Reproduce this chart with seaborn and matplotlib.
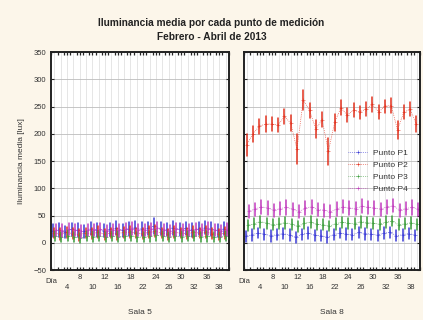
import pandas as pd
import matplotlib
matplotlib.use("Agg")
import matplotlib.pyplot as plt
import seaborn as sns

# Valores (media y semi-rango por dia)
puntos = ["Punto P1", "Punto P2", "Punto P3", "Punto P4"]
colores = ["#3a3ad6", "#e2321e", "#3c9e3c", "#c23cbe"]
etiquetas_dia = ["4", "8", "10", "12", "16", "18", "22", "24", "26", "30", "32", "36", "38"]

sala5_p1 = [22, 24, 20, 25, 23, 21, 26, 24, 22, 25, 27, 23, 26, 28, 25, 27, 31, 26, 24, 28, 25, 27, 24, 26, 28, 25, 23, 26]
sala5_p2 = [18, 16, 19, 17, 15, 18, 17, 19, 16, 18, 17, 19, 20, 18, 17, 19, 21, 18, 16, 19, 18, 17, 19, 18, 20, 17, 16, 18]
sala5_p3 = [12, 10, 13, 11, 9, 12, 11, 13, 10, 12, 11, 12, 13, 11, 10, 12, 14, 12, 10, 13, 11, 12, 13, 11, 12, 10, 11, 12]
sala5_p4 = [24, 22, 25, 23, 21, 24, 23, 25, 22, 24, 23, 25, 26, 24, 23, 25, 27, 24, 22, 25, 24, 23, 25, 24, 26, 23, 22, 24]
err5_p1 = [12, 13, 11, 12, 13, 12, 12, 13, 12, 12, 13, 12, 13, 12, 13, 12, 15, 12, 12, 13, 12, 12, 13, 12, 12, 13, 12, 12]
err5_p2 = [10, 11, 10, 10, 11, 10, 10, 11, 10, 10, 11, 10, 11, 10, 10, 11, 11, 10, 10, 11, 10, 10, 11, 10, 11, 10, 10, 11]
err5_p3 = [9, 9, 10, 9, 9, 9, 10, 9, 9, 9, 10, 9, 9, 9, 9, 10, 10, 9, 9, 9, 10, 9, 9, 9, 10, 9, 9, 9]
err5_p4 = [11, 12, 11, 11, 12, 11, 11, 12, 11, 11, 12, 11, 12, 11, 11, 12, 12, 11, 11, 12, 11, 11, 12, 11, 12, 11, 11, 12]

sala8_p1 = [12, 15, 18, 16, 13, 15, 17, 14, 10, 16, 18, 14, 13, 10, 15, 18, 16, 15, 19, 17, 16, 14, 18, 19, 13, 15, 17, 14]
sala8_p2 = [180, 200, 214, 218, 218, 216, 232, 220, 172, 262, 243, 209, 226, 168, 221, 248, 234, 244, 240, 246, 254, 240, 251, 252, 207, 240, 245, 218]
sala8_p3 = [32, 35, 39, 36, 33, 35, 37, 34, 30, 36, 38, 34, 33, 31, 35, 38, 36, 35, 39, 37, 36, 34, 38, 40, 33, 35, 37, 34]
sala8_p4 = [58, 62, 66, 64, 60, 63, 65, 62, 57, 64, 66, 61, 60, 57, 62, 66, 64, 63, 67, 65, 64, 62, 66, 68, 60, 63, 65, 62]
err8_p1 = [10, 11, 10, 10, 11, 10, 10, 11, 10, 10, 11, 10, 10, 11, 10, 10, 11, 10, 10, 11, 10, 10, 11, 10, 10, 11, 10, 10]
err8_p2 = [20, 15, 14, 14, 13, 13, 14, 14, 28, 18, 14, 16, 14, 25, 15, 14, 13, 13, 12, 13, 13, 13, 12, 13, 16, 13, 13, 15]
err8_p3 = [10, 10, 11, 10, 10, 10, 11, 10, 10, 10, 11, 10, 10, 10, 11, 10, 10, 10, 11, 10, 10, 10, 11, 10, 10, 10, 11, 10]
err8_p4 = [12, 12, 13, 12, 12, 12, 13, 12, 12, 12, 13, 12, 12, 12, 13, 12, 12, 12, 13, 12, 12, 12, 13, 12, 12, 12, 13, 12]


def tabla(medias, errores):
    # tres valores por dia: min, media, max -> pointplot con intervalo 100 %
    filas = []
    for punto, m, e in zip(puntos, medias, errores):
        for i, (v, d) in enumerate(zip(m, e)):
            for val in (v - d, v, v + d):
                filas.append({"dia": i, "punto": punto, "lux": val})
    return pd.DataFrame(filas)


def dibujar(ax, df, leyenda):
    n = df["dia"].nunique()
    for i in range(n):
        ax.axvline(i, color="#dcdcdc", lw=0.5, zorder=0)
    for y in range(-50, 351, 50):
        ax.axhline(y, color="#bdbdbd", lw=0.6, zorder=0)
    sns.pointplot(data=df, x="dia", y="lux", hue="punto", hue_order=puntos,
                  palette=colores, errorbar=("pi", 100), dodge=0.5,
                  markers="+", linestyles=":", markersize=3, linewidth=0.5,
                  err_kws={"linewidth": 1.1}, legend=leyenda, ax=ax)
    ax.set_xlim(-0.5, n - 0.5)
    ax.set_ylim(-50, 350)
    ax.set_yticks(range(-50, 351, 50))
    pos = list(range(2, 2 + 2 * len(etiquetas_dia), 2))
    labs = [("\n" + t) if k % 2 == 0 else t for k, t in enumerate(etiquetas_dia)]
    ax.set_xticks(pos)
    ax.set_xticklabels(labs, fontsize=5.5, color="#333333", linespacing=1.6)
    ax.set_xticks([i - 0.5 for i in range(n + 1)], minor=True)
    ax.tick_params(axis="x", which="both", direction="in", top=True, bottom=True, length=2, width=0.9, pad=3)
    ax.tick_params(axis="y", direction="in", left=True, right=True, length=2, width=0.8, labelsize=5.5, labelcolor="#333333")
    ax.set_xlabel("")
    ax.set_ylabel("")
    ax.set_facecolor("white")
    for s in ax.spines.values():
        s.set_color("#222222")
        s.set_linewidth(1.4)
    ax.text(0.0, -0.035, "Día", transform=ax.transAxes, ha="center", va="top", fontsize=5.5, color="#333333")


def main():
    sns.set_theme(style="white")
    plt.rcParams["font.family"] = ["Liberation Sans", "DejaVu Sans"]

    fig = plt.figure(figsize=(4.23, 3.20), dpi=100, facecolor="#fcf6ea")
    ax1 = fig.add_axes([0.121, 0.156, 0.420, 0.681])
    ax2 = fig.add_axes([0.577, 0.156, 0.416, 0.681], sharey=ax1)

    dibujar(ax1, tabla([sala5_p1, sala5_p2, sala5_p3, sala5_p4], [err5_p1, err5_p2, err5_p3, err5_p4]), False)
    dibujar(ax2, tabla([sala8_p1, sala8_p2, sala8_p3, sala8_p4], [err8_p1, err8_p2, err8_p3, err8_p4]), True)
    ax2.tick_params(axis="y", labelleft=False)

    leg = ax2.legend(loc="upper left", bbox_to_anchor=(0.56, 0.58), fontsize=6,
                     frameon=False, handlelength=2.2, labelspacing=0.5, borderpad=0.2)
    for t in leg.get_texts():
        t.set_color("#333333")

    ax1.set_ylabel("Iluminancia media [lux]", fontsize=6, color="#333333", labelpad=6)

    fig.text(0.5, 0.928, "Iluminancia media por cada punto de medición", ha="center", va="center",
             fontsize=7.3, fontweight="bold", color="#222222")
    fig.text(0.5, 0.884, "Febrero - Abril de 2013", ha="center", va="center",
             fontsize=7.3, fontweight="bold", color="#222222")
    fig.text(0.331, 0.02, "Sala 5", ha="center", fontsize=6, color="#333333")
    fig.text(0.785, 0.02, "Sala 8", ha="center", fontsize=6, color="#333333")

    fig.savefig("out.png", dpi=100, facecolor=fig.get_facecolor())
    plt.close(fig)


if __name__ == "__main__":
    main()
